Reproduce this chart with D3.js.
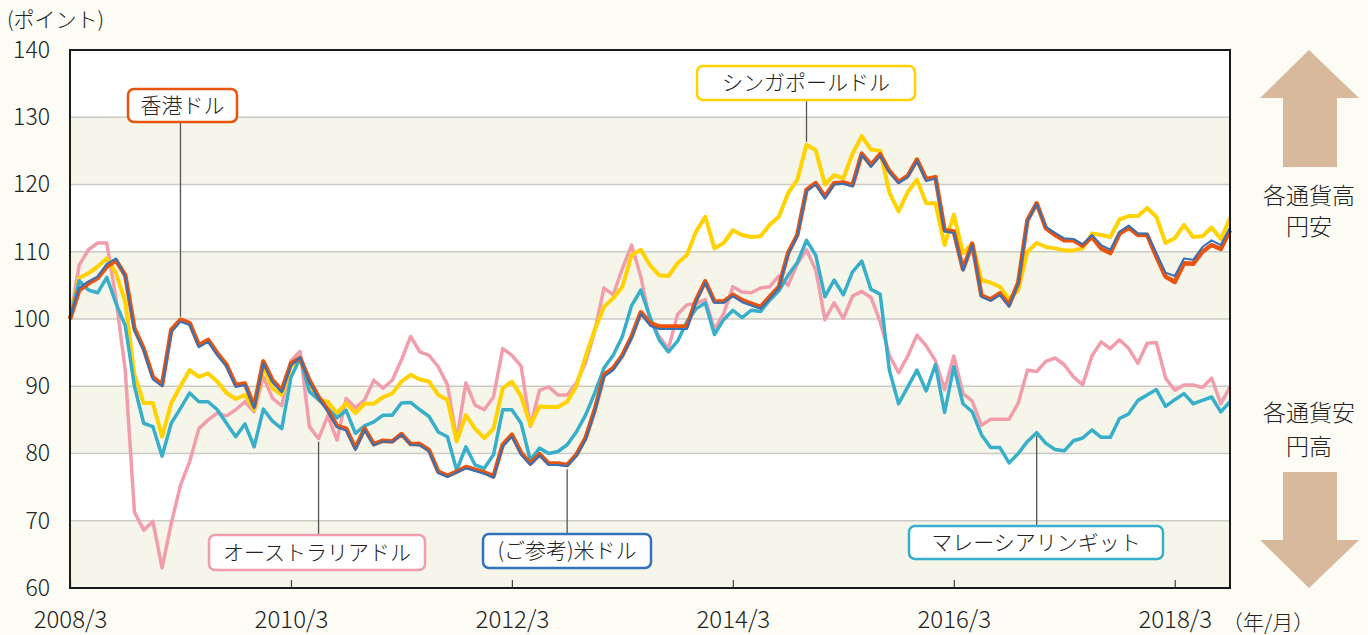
<!DOCTYPE html>
<meta charset="utf-8">
<style>
	body {
		margin: 0;
		background: #fcfbf4;
	}
	svg text {
		font-family: "Noto Sans CJK JP", "Noto Sans", sans-serif;
		font-weight: 300;
		fill: #222;
	}
	.line {
		fill: none;
		stroke-linejoin: round;
	}
</style>
<body>
<div id="chart"></div>
<script src="https://d3js.org/d3.v7.min.js"></script>
<script>
	// monthly values, 2008/3 .. 2018/9 (index, 2008/3 = 100)
	const hkd = [100,104.3,105.3,106.1,107.8,108.7,106.5,98.6,95.6,91.4,
		90.2,98.4,99.9,99.4,96.1,96.9,94.9,93.2,90.2,90.4,
		87,93.7,90.9,89.4,93.4,94.2,90.9,88.4,86.5,84.1,
		83.7,80.8,83.7,81.4,81.9,81.8,82.9,81.4,81.4,80.5,
		77.3,76.7,77.3,78,77.6,77.2,76.6,81.3,82.8,80.1,
		78.5,79.9,78.5,78.5,78.3,79.8,82.3,86.5,91.7,92.7,
		94.6,97.4,101,99.4,98.9,98.9,98.9,98.9,102.8,105.6,
		102.6,102.6,103.6,102.8,102.3,101.8,103.3,104.8,109.8,112.5,
		119.2,120.2,118.2,120.2,120.3,119.9,124.6,122.9,124.5,122,
		120.4,121.3,123.7,120.8,121.1,113.2,113,107.4,111.2,103.5,
		102.9,103.8,102.1,105.4,114.7,117.2,113.5,112.5,111.7,111.7,
		110.9,112.2,110.5,109.8,112.7,113.6,112.5,112.5,109.3,106.3,
		105.5,108.3,108.2,110,111,110.4,113.2];

	const usd = [100,104.6,105.6,106.3,108.2,109,106.3,98.2,95.3,91,
		90,98,99.6,99.1,95.8,96.6,94.6,92.9,89.9,90.2,
		86.7,93.4,90.6,89.1,93.1,94.3,90.6,88.2,86.2,83.9,
		83.4,80.5,83.5,81.2,81.8,81.7,82.8,81.3,81.2,80.3,
		77.1,76.5,77.2,77.8,77.4,77,76.4,81,82.5,79.8,
		78.3,79.7,78.3,78.3,78.1,79.6,82,86.2,91.4,92.4,
		94.4,97.1,100.8,99,98.5,98.5,98.5,98.5,102.5,105.4,
		102.4,102.4,103.4,102.5,102,101.5,103,104.6,109.6,112.3,
		119,120,117.9,120,120.1,119.7,124.4,122.6,124.3,121.8,
		120.2,121.1,123.5,120.5,120.9,113,112.8,107.2,111,103.3,
		102.7,103.6,101.8,105.3,114.5,117.1,113.7,112.8,112,111.9,
		111.1,112.5,111,110.3,113,113.9,112.7,112.7,109.8,106.9,
		106.4,109,108.8,110.7,111.7,111,113.6];

	const sgd = [100,106.1,106.8,107.8,109,106.8,102.6,91.7,87.5,87.5,
		82.5,87.5,90,92.4,91.4,91.9,90.7,89,88.1,88.7,
		86.5,92.9,89.7,88.7,92.9,94.2,90.4,88,87.7,86,
		87.5,86,87.4,87.4,88.4,88.9,90.7,91.7,91,90.7,
		88.7,88,81.8,85.7,83.7,82.3,83.7,89.7,90.7,88.5,
		84.2,87,86.9,86.9,87.7,90,94.4,98.4,101.8,103.1,
		104.8,109.5,110.3,108,106.5,106.4,108.3,109.5,113,115.2,
		110.5,111.3,113.2,112.5,112.2,112.3,114,115.2,118.7,120.7,
		125.9,125.1,120,121.4,120.9,124.6,127.2,125.2,125,118.8,
		116,118.9,120.7,117.2,117.2,111,115.5,109.8,111.2,105.8,
		105.4,104.8,102.9,104.3,110,111.3,110.7,110.5,110.2,110.2,
		110.5,112.7,112.5,112.2,114.8,115.3,115.3,116.5,115.2,111.3,
		112,114,112.2,112.3,113.6,111.9,115];

	const aud = [100,108,110.3,111.3,111.3,103,92.4,71.3,68.6,69.9,
		63,69.6,75.3,78.8,83.7,85,86,85.6,86.5,87.7,
		86.2,91.4,88.2,87.1,93.8,95.2,84,82.2,85.6,82,
		88.2,86.8,88,90.9,89.7,90.9,93.9,97.4,95.1,94.6,
		92.9,90.2,82,90.5,87.2,86.5,88.4,95.6,94.6,93,
		84,89.4,89.9,88.7,88.7,90.5,93.5,98.2,104.6,103.6,
		107.5,111,106.3,99.7,97.4,95.6,100.7,102.1,102.3,102.9,
		98.5,100.8,104.8,104,103.9,104.6,104.8,106.4,105,108.2,
		110.3,107.3,99.9,102.4,100.1,103.4,104.1,103.2,99.6,94.6,
		92,94.5,97.6,96,93.8,89.5,94.5,88.9,87.8,84.2,
		85.1,85.1,85.1,87.5,92.4,92.2,93.7,94.2,93.2,91.4,
		90.2,94.5,96.6,95.6,96.9,95.6,93.4,96.4,96.5,91.2,
		89.4,90.2,90.2,89.8,91.2,87.4,89.9];

	const myr = [100,105.7,104.3,103.9,106.2,102.3,99,90,84.5,84,
		79.6,84.5,86.7,89,87.7,87.7,86.5,84.5,82.5,84.4,
		81,86.6,84.8,83.7,91.3,94.2,89.2,88,86.7,85.3,
		86.4,83,84.1,84.7,85.7,85.7,87.5,87.6,86.5,85.5,
		83.2,82.5,77.5,81,78.3,77.8,79.8,86.5,86.5,84.5,
		79,80.8,80,80.3,81.3,83.2,85.7,89,92.7,94.6,
		97.4,102,104.3,100.3,96.9,95.1,96.7,99.6,101.5,102.4,
		97.7,99.9,101.3,100.2,101.3,101.1,102.8,104.2,106.5,108.4,
		111.7,109.5,103.3,105.8,103.6,107,108.6,104.4,103.7,92.4,
		87.4,89.9,92.4,89.3,93.2,86.1,92.9,87.4,86.2,82.8,
		80.9,80.9,78.6,80,81.8,83.1,81.5,80.6,80.4,81.9,
		82.3,83.5,82.4,82.4,85.2,85.9,87.9,88.7,89.5,87,
		88,88.9,87.4,87.9,88.4,86.2,87.7];

	const yTicks = [60, 70, 80, 90, 100, 110, 120, 130, 140];
	const xTicks = [0, 24, 48, 72, 96, 120];
	const xTickLabels = ["2008/3", "2010/3", "2012/3", "2014/3", "2016/3", "2018/3"];

	const width = 1368;
	const height = 635;
	const plot = { left: 70, right: 1230, top: 50, bottom: 588 };

	const svg = d3.select("#chart").append("svg")
		.attr("width", width)
		.attr("height", height);

	const x = d3.scaleLinear().domain([0, hkd.length - 1]).range([plot.left, plot.right]);
	const y = d3.scaleLinear().domain([60, 140]).range([plot.bottom, plot.top]);

	// background: white with alternating beige bands
	svg.append("rect")
		.attr("x", plot.left).attr("y", plot.top)
		.attr("width", plot.right - plot.left).attr("height", plot.bottom - plot.top)
		.attr("fill", "#fff");

	svg.selectAll(".band")
		.data(yTicks.filter(d => d < 140 && (d / 10) % 2 === 0))
		.enter().append("rect")
		.attr("class", "band")
		.attr("x", plot.left)
		.attr("width", plot.right - plot.left)
		.attr("y", d => y(d + 10))
		.attr("height", d => y(d) - y(d + 10))
		.attr("fill", "#f6f5ea");

	svg.selectAll(".grid")
		.data(yTicks.slice(1, -1))
		.enter().append("line")
		.attr("x1", plot.left).attr("x2", plot.right)
		.attr("y1", d => y(d)).attr("y2", d => y(d))
		.attr("stroke", "#cbcbc6")
		.attr("stroke-width", 1.5);

	// y axis labels
	const yAxis = d3.axisLeft(y).tickValues(yTicks).tickSize(0).tickPadding(20);
	svg.append("g")
		.attr("transform", `translate(${plot.left},0)`)
		.call(yAxis)
		.call(g => g.select(".domain").remove())
		.call(g => g.selectAll("text")
			.attr("font-size", 23)
			.attr("fill", "#222")
			.style("font-family", "'Noto Sans CJK JP', sans-serif")
			.style("font-weight", 300));

	// x axis, ticks pointing inward
	const xAxis = d3.axisBottom(x).tickValues(xTicks)
		.tickFormat((d, i) => xTickLabels[i])
		.tickSizeInner(-8).tickSizeOuter(0).tickPadding(23);
	svg.append("g")
		.attr("transform", `translate(0,${plot.bottom})`)
		.call(xAxis)
		.call(g => g.select(".domain").remove())
		.call(g => g.selectAll("line").attr("stroke", "#444").attr("stroke-width", 1.2))
		.call(g => g.selectAll("text")
			.attr("font-size", 24)
			.attr("fill", "#222")
			.style("font-family", "'Noto Sans CJK JP', sans-serif")
			.style("font-weight", 300));

	svg.append("text")
		.attr("x", 1222).attr("y", 630)
		.attr("font-size", 21)
		.text("（年/月）");

	svg.append("text")
		.attr("x", 7).attr("y", 27)
		.attr("font-size", 21)
		.text("(ポイント)");

	// lines
	const line = d3.line()
		.x((d, i) => x(i))
		.y(d => y(d));

	const series = [
		{ name: "aud", values: aud, color: "#f29dab", width: 3.5 },
		{ name: "sgd", values: sgd, color: "#ffd200", width: 4 },
		{ name: "myr", values: myr, color: "#37afca", width: 3.5 },
		{ name: "hkd", values: hkd, color: "#e8530e", width: 4.5 },
		{ name: "usd", values: usd, color: "#3472bb", width: 2 }
	];

	svg.append("g")
		.selectAll("path")
		.data(series)
		.enter().append("path")
		.attr("class", "line")
		.attr("d", d => line(d.values))
		.attr("stroke", d => d.color)
		.attr("stroke-width", d => d.width);

	// frame
	svg.append("rect")
		.attr("x", plot.left).attr("y", plot.top)
		.attr("width", plot.right - plot.left).attr("height", plot.bottom - plot.top)
		.attr("fill", "none")
		.attr("stroke", "#1a1a1a")
		.attr("stroke-width", 2);

	// callout labels
	const callouts = [
		{ text: "香港ドル", data: hkd, idx: 12, color: "#e8530e", bx: 128, by: 89, bw: 109, bh: 33 },
		{ text: "シンガポールドル", data: sgd, idx: 80, color: "#ffd200", bx: 697, by: 66, bw: 218, bh: 34 },
		{ text: "オーストラリアドル", data: aud, idx: 27, color: "#f29dab", bx: 209, by: 535, bw: 216, bh: 35 },
		{ text: "(ご参考)米ドル", data: usd, idx: 54, color: "#3472bb", bx: 483, by: 534, bw: 168, bh: 34 },
		{ text: "マレーシアリンギット", data: myr, idx: 105, color: "#37afca", bx: 909, by: 526, bw: 254, bh: 33 }
	];

	const co = svg.append("g").selectAll("g")
		.data(callouts)
		.enter().append("g");

	co.append("line")
		.attr("x1", d => x(d.idx)).attr("x2", d => x(d.idx))
		.attr("y1", d => d.by > y(d.data[d.idx]) ? d.by : d.by + d.bh)
		.attr("y2", d => y(d.data[d.idx]) + (d.by > y(d.data[d.idx]) ? 3 : -3))
		.attr("stroke", "#555")
		.attr("stroke-width", 1.3);

	co.append("rect")
		.attr("x", d => d.bx).attr("y", d => d.by)
		.attr("width", d => d.bw).attr("height", d => d.bh)
		.attr("rx", 6)
		.attr("fill", "#fff")
		.attr("stroke", d => d.color)
		.attr("stroke-width", 2.5);

	co.append("text")
		.attr("x", d => d.bx + d.bw / 2)
		.attr("y", d => d.by + d.bh / 2 + 7)
		.attr("text-anchor", "middle")
		.attr("font-size", 21)
		.text(d => d.text);

	// side arrows
	const arrowColor = "#d8b99b";
	svg.append("path")
		.attr("d", "M1309,50 L1359,98 L1337,98 L1337,167 L1283,167 L1283,98 L1260,98 Z")
		.attr("fill", arrowColor);
	svg.append("path")
		.attr("d", "M1283,472 L1337,472 L1337,540 L1359,540 L1309,588 L1260,540 L1283,540 Z")
		.attr("fill", arrowColor);

	const sideText = [
		{ t: "各通貨高", y: 204 },
		{ t: "円安", y: 235 },
		{ t: "各通貨安", y: 421 },
		{ t: "円高", y: 455 }
	];
	svg.selectAll(".side")
		.data(sideText)
		.enter().append("text")
		.attr("x", 1309)
		.attr("y", d => d.y)
		.attr("text-anchor", "middle")
		.attr("font-size", 23)
		.text(d => d.t);
</script>
</body>
